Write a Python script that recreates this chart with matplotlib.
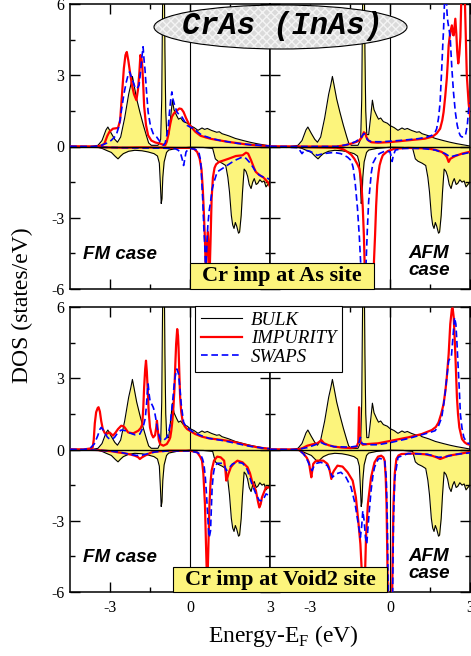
import numpy as np
import matplotlib.pyplot as plt
from matplotlib.patches import Ellipse, Rectangle
from matplotlib.lines import Line2D

plt.rcParams['font.family'] = ['Liberation Serif', 'DejaVu Serif']
plt.rcParams['mathtext.fontset'] = 'custom'
plt.rcParams['mathtext.rm'] = 'Liberation Serif'
plt.rcParams['axes.unicode_minus'] = False

# ---- data: (energy in eV, DOS in states/eV) ----
# bulk CrAs (same curve in all four panels)
BULK_UP = [(-4.5, 0), (-3.7, 0.0), (-3.45, 0.05), (-3.3, 0.25), (-3.15, 0.7), (-3.08, 0.82),
           (-2.95, 0.55), (-2.82, 0.3), (-2.72, 0.18), (-2.6, 0.4), (-2.45, 1.2), (-2.3, 2.2),
           (-2.22, 2.6), (-2.16, 2.95), (-2.1, 2.6), (-2.0, 2.0), (-1.88, 1.45), (-1.75, 0.9),
           (-1.62, 0.4), (-1.55, 0.15), (-1.45, 0.05), (-1.2, 0.05), (-1.1, 0.3), (-1.06, 2.0),
           (-1.04, 4.6), (-1.01, 8.0), (-0.97, 8.0), (-0.94, 4.0), (-0.91, 1.5), (-0.87, 0.5),
           (-0.8, 0.5), (-0.72, 1.3), (-0.66, 1.95), (-0.6, 1.55), (-0.5, 1.3), (-0.43, 1.15),
           (-0.35, 1.2), (-0.25, 1.05), (-0.1, 0.98), (0.0, 0.88), (0.15, 0.8), (0.3, 0.68),
           (0.45, 0.78), (0.55, 0.72), (0.65, 0.76), (0.8, 0.68), (1.0, 0.6), (1.1, 0.62),
           (1.2, 0.54), (1.45, 0.45), (1.7, 0.34), (2.0, 0.25), (2.25, 0.18), (2.5, 0.12),
           (2.75, 0.07), (3.0, 0.02)]
BULK_DN = [(-4.5, 0), (-3.5, -0.02), (-3.3, -0.08), (-3.1, -0.18), (-2.95, -0.25), (-2.8, -0.42),
           (-2.7, -0.52), (-2.6, -0.4), (-2.5, -0.3), (-2.3, -0.2), (-2.07, -0.16), (-1.8, -0.18),
           (-1.57, -0.23), (-1.35, -0.3), (-1.22, -0.4), (-1.15, -0.7), (-1.11, -1.6), (-1.08, -2.4),
           (-1.05, -2.2), (-1.02, -1.3), (-0.97, -0.65), (-0.88, -0.25), (-0.8, -0.15), (-0.5, -0.08),
           (-0.3, -0.06), (0.0, -0.03), (0.5, -0.04), (0.85, -0.08), (0.9, -0.3), (0.95, -0.52),
           (1.05, -0.62), (1.2, -0.7), (1.34, -0.8), (1.42, -1.3), (1.48, -1.9), (1.55, -2.9),
           (1.6, -3.3), (1.65, -3.45), (1.7, -3.2), (1.75, -3.35), (1.82, -3.65), (1.86, -3.6),
           (1.92, -2.9), (1.97, -1.9), (2.03, -0.95), (2.1, -1.05), (2.16, -1.25), (2.22, -1.6),
           (2.29, -1.77), (2.35, -1.5), (2.41, -1.35), (2.48, -1.6), (2.54, -1.55), (2.62, -1.4),
           (2.7, -1.5), (2.78, -1.45), (2.85, -1.7), (2.92, -1.6), (3.0, -1.5)]

# Cr impurity at As site, FM
AS_FM_IMP_UP = [(-4.5, 0), (-3.5, 0.0), (-3.3, 0.05), (-3.21, 0.12), (-3.1, 0.45), (-3.02, 0.62),
                (-2.89, 0.75), (-2.7, 0.78), (-2.62, 1.1), (-2.55, 2.2), (-2.48, 3.3), (-2.42, 3.85),
                (-2.37, 3.98), (-2.31, 3.6), (-2.26, 3.2), (-2.18, 2.6), (-2.1, 2.2), (-2.01, 1.95),
                (-1.95, 2.4), (-1.9, 3.1), (-1.86, 3.85), (-1.82, 3.7), (-1.79, 3.4), (-1.75, 2.5),
                (-1.72, 1.7), (-1.65, 0.9), (-1.57, 0.47), (-1.45, 0.25), (-1.3, 0.17), (-1.12, 0.12),
                (-0.93, 0.05), (-0.87, 0.2), (-0.81, 0.5), (-0.74, 0.95), (-0.68, 1.25), (-0.6, 1.4),
                (-0.5, 1.5), (-0.4, 1.6), (-0.32, 1.58), (-0.24, 1.45), (-0.15, 1.2), (-0.05, 0.96),
                (0.1, 0.75), (0.2, 0.62), (0.4, 0.45), (0.6, 0.38), (0.8, 0.32), (1.1, 0.26),
                (1.4, 0.2), (1.72, 0.15), (2.1, 0.09), (2.47, 0.05), (3.0, 0.02)]
AS_FM_IMP_DN = [(-4.5, 0), (-3.5, -0.02), (-3.0, -0.04), (-2.5, -0.05), (-2.0, -0.04), (-1.5, -0.04),
                (-1.0, -0.05), (-0.5, -0.06), (0.0, -0.06), (0.15, -0.1), (0.27, -0.23), (0.36, -0.5),
                (0.43, -0.95), (0.48, -1.8), (0.52, -2.8), (0.56, -3.9), (0.6, -5.6), (0.64, -4.2),
                (0.67, -3.6), (0.7, -4.3), (0.74, -5.2), (0.77, -4.0), (0.81, -2.2), (0.86, -1.3),
                (0.92, -0.9), (0.98, -0.75), (1.09, -0.65), (1.28, -0.58), (1.46, -0.51), (1.72, -0.4),
                (1.97, -0.37), (2.1, -0.26), (2.18, -0.3), (2.29, -0.58), (2.4, -0.9), (2.47, -1.07),
                (2.6, -1.2), (2.75, -1.3), (2.85, -1.42), (2.95, -1.55), (3.0, -1.7)]
AS_FM_SW_UP = [(-4.5, 0), (-3.6, 0.0), (-3.33, 0.05), (-3.1, 0.15), (-2.95, 0.26), (-2.77, 0.47),
               (-2.65, 0.9), (-2.58, 1.45), (-2.48, 2.2), (-2.39, 2.71), (-2.3, 3.1), (-2.26, 3.14),
               (-2.19, 2.9), (-2.13, 2.71), (-2.05, 2.45), (-2.01, 2.43), (-1.95, 2.5), (-1.91, 2.58),
               (-1.85, 3.2), (-1.8, 3.8), (-1.76, 4.2), (-1.72, 3.6), (-1.69, 3.28), (-1.63, 2.3),
               (-1.57, 1.45), (-1.48, 0.85), (-1.38, 0.54), (-1.25, 0.4), (-1.12, 0.19), (-1.0, 0.05),
               (-0.93, 0.15), (-0.87, 0.47), (-0.81, 0.9), (-0.77, 1.45), (-0.72, 2.0), (-0.68, 2.3),
               (-0.64, 2.0), (-0.58, 1.75), (-0.49, 1.45), (-0.4, 1.33), (-0.3, 1.24), (-0.2, 1.05),
               (-0.11, 0.89), (0.0, 0.82), (0.14, 0.75), (0.3, 0.6), (0.45, 0.47), (0.65, 0.4),
               (0.83, 0.33), (1.1, 0.26), (1.46, 0.19), (1.8, 0.13), (2.22, 0.08), (2.6, 0.05),
               (3.0, 0.02)]
AS_FM_SW_DN = [(-4.5, 0), (-3.0, -0.04), (-2.0, -0.06), (-1.0, -0.07), (-0.56, -0.09), (-0.45, -0.15),
               (-0.37, -0.23), (-0.3, -0.5), (-0.24, -0.8), (-0.19, -0.5), (-0.15, -0.23), (-0.05, -0.1),
               (0.0, -0.08), (0.2, -0.12), (0.33, -0.23), (0.4, -0.6), (0.43, -1.21), (0.48, -2.3),
               (0.52, -3.46), (0.56, -4.3), (0.59, -5.4), (0.63, -4.2), (0.67, -3.3), (0.72, -2.7),
               (0.77, -2.34), (0.83, -1.8), (0.9, -1.49), (1.02, -1.07), (1.21, -0.93), (1.4, -0.79),
               (1.59, -0.65), (1.75, -0.55), (1.97, -0.44), (2.1, -0.5), (2.22, -0.65), (2.35, -0.85),
               (2.47, -1.07), (2.6, -1.2), (2.73, -1.28), (2.85, -1.3), (3.0, -1.4)]

# Cr impurity at As site, AFM
AS_AFM_IMP_UP = [(-4.5, 0), (-2.0, 0.0), (-1.7, 0.05), (-1.46, 0.12), (-1.25, 0.2), (-1.15, 0.26),
                 (-1.05, 0.4), (-0.98, 0.6), (-0.93, 0.55), (-0.88, 0.38), (-0.8, 0.24), (-0.7, 0.18),
                 (-0.45, 0.16), (0.05, 0.19), (0.68, 0.26), (1.31, 0.33), (1.6, 0.42), (1.75, 0.55),
                 (1.88, 0.75), (1.96, 1.1), (2.01, 1.45), (2.07, 2.1), (2.13, 2.86), (2.17, 3.6),
                 (2.2, 4.26), (2.26, 4.82), (2.32, 5.1), (2.36, 4.7), (2.39, 4.68), (2.45, 5.38),
                 (2.49, 4.7), (2.52, 4.0), (2.56, 3.5), (2.6, 3.9), (2.64, 4.6), (2.68, 6.5),
                 (2.74, 8.0), (2.8, 6.5), (2.88, 3.0), (2.95, 1.8), (3.0, 1.3)]
AS_AFM_IMP_DN = [(-4.5, 0), (-3.0, -0.03), (-2.0, -0.05), (-1.75, -0.12), (-1.59, -0.23), (-1.45, -0.35),
                 (-1.34, -0.51), (-1.22, -0.75), (-1.15, -0.93), (-1.1, -1.3), (-1.06, -1.77),
                 (-1.02, -2.6), (-0.98, -3.74), (-0.95, -5.0), (-0.92, -6.5), (-0.78, -9.0),
                 (-0.63, -6.5), (-0.6, -4.8), (-0.56, -3.74), (-0.52, -2.5), (-0.48, -1.63),
                 (-0.43, -1.1), (-0.39, -0.79), (-0.33, -0.55), (-0.27, -0.37), (-0.15, -0.25),
                 (-0.08, -0.19), (0.18, -0.09), (0.68, -0.06), (1.4, -0.08), (1.7, -0.14),
                 (1.94, -0.23), (2.05, -0.32), (2.13, -0.44), (2.2, -0.65), (2.26, -0.52),
                 (2.35, -0.46), (2.45, -0.4), (2.7, -0.3), (3.0, -0.22)]
AS_AFM_SW_UP = [(-4.5, 0), (-2.0, 0.0), (-1.6, 0.08), (-1.3, 0.2), (-1.1, 0.35), (-0.98, 0.55),
                (-0.92, 0.5), (-0.85, 0.28), (-0.7, 0.2), (-0.3, 0.2), (0.43, 0.26), (1.06, 0.33),
                (1.4, 0.4), (1.57, 0.47), (1.7, 0.62), (1.75, 0.75), (1.82, 1.2), (1.88, 1.87),
                (1.91, 2.6), (1.94, 3.28), (1.98, 4.3), (2.01, 4.96), (2.05, 6.3), (2.1, 6.5),
                (2.14, 5.6), (2.17, 5.24), (2.22, 4.9), (2.26, 4.54), (2.29, 3.9), (2.32, 3.28),
                (2.38, 2.3), (2.45, 1.45), (2.52, 0.9), (2.58, 0.61), (2.64, 0.45), (2.7, 0.4),
                (2.78, 0.42), (2.83, 0.47), (2.9, 0.9), (2.95, 1.59), (3.0, 1.85)]
AS_AFM_SW_DN = [(-4.5, 0), (-3.45, -0.05), (-3.3, -0.3), (-3.2, -0.15), (-3.0, -0.2), (-2.73, -0.37),
                (-2.5, -0.3), (-2.1, -0.25), (-1.85, -0.3), (-1.72, -0.37), (-1.59, -0.45),
                (-1.45, -0.6), (-1.38, -0.9), (-1.3, -1.6), (-1.22, -2.6), (-1.15, -3.8),
                (-1.1, -4.9), (-1.0, -7.0), (-0.9, -5.0), (-0.85, -3.5), (-0.8, -2.3), (-0.76, -1.83),
                (-0.7, -1.1), (-0.64, -0.7), (-0.5, -0.4), (-0.4, -0.3), (-0.2, -0.2), (0.0, -0.22),
                (0.05, -0.45), (0.08, -0.63), (0.12, -0.4), (0.2, -0.15), (0.5, -0.08), (1.2, -0.08),
                (1.7, -0.15), (2.07, -0.3), (2.26, -0.44), (2.45, -0.38), (3.0, -0.25)]

# Cr impurity at Void2 site, FM
V2_FM_IMP_UP = [(-4.5, 0), (-4.0, 0.0), (-3.7, 0.05), (-3.65, 0.09), (-3.61, 0.4), (-3.57, 1.1),
                (-3.52, 1.57), (-3.46, 1.75), (-3.43, 1.78), (-3.38, 1.6), (-3.33, 1.2), (-3.27, 0.86),
                (-3.2, 0.7), (-3.14, 0.65), (-3.02, 0.72), (-2.95, 0.65), (-2.89, 0.58), (-2.8, 0.7),
                (-2.7, 0.86), (-2.58, 1.0), (-2.5, 0.98), (-2.45, 0.93), (-2.32, 0.72), (-2.13, 0.68),
                (-1.94, 0.79), (-1.85, 0.9), (-1.79, 1.05), (-1.75, 1.8), (-1.72, 2.62), (-1.68, 3.4),
                (-1.65, 3.74), (-1.62, 3.3), (-1.59, 2.62), (-1.55, 1.6), (-1.5, 0.93), (-1.44, 0.65),
                (-1.38, 0.51), (-1.31, 0.6), (-1.27, 0.9), (-1.24, 1.21), (-1.21, 0.85), (-1.17, 0.4),
                (-1.12, 0.23), (-1.0, 0.16), (-0.87, 0.23), (-0.78, 0.4), (-0.74, 0.51), (-0.7, 0.8),
                (-0.66, 1.21), (-0.62, 1.8), (-0.58, 2.62), (-0.55, 3.6), (-0.52, 4.44), (-0.48, 5.07),
                (-0.45, 4.8), (-0.43, 4.3), (-0.4, 3.2), (-0.37, 2.2), (-0.33, 1.6), (-0.28, 1.21),
                (-0.2, 0.98), (-0.11, 0.86), (0.05, 0.75), (0.2, 0.65), (0.45, 0.54), (0.71, 0.47),
                (1.0, 0.43), (1.21, 0.4), (1.5, 0.35), (1.72, 0.3), (2.0, 0.22), (2.22, 0.16),
                (2.5, 0.1), (2.73, 0.06), (3.0, 0.03)]
V2_FM_IMP_DN = [(-4.5, 0), (-3.5, -0.02), (-3.2, -0.05), (-2.9, -0.08), (-2.7, -0.12), (-2.5, -0.15),
                (-2.32, -0.19), (-2.2, -0.22), (-2.07, -0.26), (-1.95, -0.32), (-1.88, -0.4),
                (-1.8, -0.33), (-1.69, -0.26), (-1.55, -0.18), (-1.44, -0.12), (-1.2, -0.08),
                (-0.8, -0.05), (0.0, -0.05), (0.27, -0.12), (0.38, -0.3), (0.45, -0.47), (0.5, -1.0),
                (0.56, -2.29), (0.6, -4.0), (0.62, -4.82), (0.65, -5.8), (0.68, -4.5), (0.73, -2.29),
                (0.77, -1.4), (0.81, -0.89), (0.9, -0.47), (1.02, -0.3), (1.15, -0.33), (1.28, -0.47),
                (1.33, -0.9), (1.36, -1.31), (1.4, -1.2), (1.44, -1.03), (1.53, -0.75), (1.65, -0.58),
                (1.78, -0.47), (1.97, -0.54), (2.16, -0.75), (2.25, -1.0), (2.32, -1.31),
                (2.47, -1.73), (2.55, -2.2), (2.6, -2.44), (2.65, -2.3), (2.7, -2.01), (2.85, -1.59),
                (2.95, -1.6), (3.0, -1.6)]
V2_FM_SW_UP = [(-4.5, 0), (-4.0, 0.0), (-3.75, 0.05), (-3.59, 0.23), (-3.46, 0.58), (-3.38, 0.85),
               (-3.33, 0.93), (-3.27, 0.85), (-3.21, 0.72), (-3.1, 0.52), (-3.02, 0.44), (-2.9, 0.45),
               (-2.83, 0.51), (-2.7, 0.72), (-2.58, 0.82), (-2.45, 0.8), (-2.32, 0.72), (-2.07, 0.62),
               (-1.88, 0.65), (-1.76, 0.93), (-1.68, 1.3), (-1.63, 1.9), (-1.6, 2.4), (-1.57, 2.76),
               (-1.53, 2.3), (-1.5, 2.06), (-1.44, 1.92), (-1.38, 1.78), (-1.33, 1.6), (-1.29, 1.35),
               (-1.21, 0.79), (-1.12, 0.44), (-1.0, 0.37), (-0.87, 0.51), (-0.8, 0.75), (-0.74, 1.07),
               (-0.66, 1.92), (-0.58, 2.9), (-0.52, 3.3), (-0.49, 3.39), (-0.43, 3.18), (-0.38, 2.6),
               (-0.33, 1.92), (-0.24, 1.14), (-0.12, 0.92), (-0.05, 0.86), (0.2, 0.68), (0.5, 0.55),
               (0.71, 0.47), (1.21, 0.38), (1.72, 0.26), (2.22, 0.14), (2.6, 0.08), (3.0, 0.03)]
V2_FM_SW_DN = [(-4.5, 0), (-3.5, -0.03), (-3.0, -0.06), (-2.6, -0.12), (-2.3, -0.2), (-2.0, -0.25),
               (-1.8, -0.24), (-1.6, -0.18), (-1.3, -0.1), (-0.8, -0.06), (0.0, -0.06), (0.25, -0.12),
               (0.39, -0.19), (0.47, -0.4), (0.52, -0.61), (0.57, -1.1), (0.61, -1.73), (0.66, -2.7),
               (0.71, -3.7), (0.74, -3.6), (0.77, -3.42), (0.8, -2.5), (0.83, -1.59), (0.88, -1.0),
               (0.92, -0.75), (1.02, -0.58), (1.21, -0.58), (1.3, -0.7), (1.36, -0.89), (1.45, -0.8),
               (1.59, -0.61), (1.78, -0.54), (1.97, -0.58), (2.1, -0.75), (2.16, -0.89), (2.32, -1.45),
               (2.47, -1.87), (2.6, -2.15), (2.73, -2.15), (2.85, -1.87), (3.0, -1.95)]

# Cr impurity at Void2 site, AFM
V2_AFM_IMP_UP = [(-4.5, 0), (-3.5, 0.0), (-3.3, 0.05), (-3.1, 0.16), (-2.9, 0.22), (-2.73, 0.26),
                 (-2.62, 0.35), (-2.58, 0.4), (-2.52, 0.32), (-2.47, 0.26), (-2.3, 0.18), (-2.1, 0.12),
                 (-1.8, 0.08), (-1.46, 0.06), (-1.25, 0.12), (-1.19, 0.3), (-1.16, 1.78), (-1.13, 0.6),
                 (-1.1, 0.3), (-1.02, 0.2), (-0.83, 0.23), (-0.45, 0.26), (0.05, 0.37), (0.68, 0.51),
                 (1.19, 0.65), (1.57, 0.82), (1.72, 0.95), (1.82, 1.14), (1.92, 1.5), (2.01, 1.92),
                 (2.08, 2.5), (2.13, 3.04), (2.2, 4.02), (2.26, 5.28), (2.32, 5.92), (2.35, 5.95),
                 (2.39, 5.56), (2.42, 4.8), (2.45, 4.02), (2.51, 2.2), (2.55, 1.5), (2.6, 0.93),
                 (2.7, 0.44), (2.8, 0.3), (2.89, 0.23), (3.0, 0.2)]
V2_AFM_IMP_DN = [(-4.5, 0), (-3.4, -0.02), (-3.23, -0.19), (-3.12, -0.35), (-3.04, -0.54), (-2.99, -0.9),
                 (-2.95, -1.17), (-2.91, -0.85), (-2.88, -0.61), (-2.8, -0.5), (-2.73, -0.47),
                 (-2.5, -0.47), (-2.35, -0.6), (-2.29, -0.75), (-2.24, -1.0), (-2.2, -1.24),
                 (-2.15, -1.0), (-2.1, -0.89), (-1.97, -0.68), (-1.78, -0.72), (-1.59, -0.96),
                 (-1.4, -1.31), (-1.28, -2.01), (-1.19, -3.0), (-1.11, -3.98), (-1.06, -5.1),
                 (-1.03, -6.5), (-1.0, -5.5), (-0.96, -6.5), (-0.93, -5.0), (-0.9, -3.7), (-0.83, -2.3),
                 (-0.71, -1.17), (-0.58, -0.54), (-0.45, -0.3), (-0.33, -0.26), (-0.25, -0.33),
                 (-0.2, -0.47), (-0.16, -1.2), (-0.13, -2.3), (-0.1, -4.5), (-0.06, -8.0), (0.06, -8.0),
                 (0.1, -4.5), (0.13, -2.3), (0.18, -1.0), (0.24, -0.4), (0.32, -0.25), (0.43, -0.19),
                 (0.9, -0.17), (1.3, -0.2), (1.57, -0.26), (1.75, -0.33), (1.88, -0.4), (2.0, -0.35),
                 (2.2, -0.26), (2.58, -0.19), (3.0, -0.1)]
V2_AFM_SW_UP = [(-4.5, 0), (-3.5, 0.0), (-3.1, 0.08), (-2.8, 0.2), (-2.6, 0.3), (-2.45, 0.22),
                (-2.1, 0.12), (-1.5, 0.1), (-1.2, 0.15), (-1.11, 0.51), (-1.05, 0.25), (-0.8, 0.2),
                (-0.45, 0.2), (0.05, 0.3), (0.68, 0.46), (1.19, 0.62), (1.5, 0.72), (1.69, 0.79),
                (1.82, 1.0), (1.94, 1.35), (2.05, 2.2), (2.13, 3.04), (2.2, 3.74), (2.26, 3.85),
                (2.3, 3.88), (2.36, 4.72), (2.42, 5.56), (2.47, 5.28), (2.51, 4.5), (2.55, 3.6),
                (2.6, 2.5), (2.64, 1.49), (2.7, 0.9), (2.77, 0.51), (2.88, 0.3), (3.0, 0.22)]
V2_AFM_SW_DN = [(-4.5, 0), (-3.4, -0.03), (-3.23, -0.2), (-3.1, -0.45), (-3.04, -0.61), (-2.92, -0.89),
                (-2.85, -0.7), (-2.75, -0.58), (-2.6, -0.54), (-2.45, -0.6), (-2.35, -0.68),
                (-2.25, -0.9), (-2.16, -1.17), (-2.03, -1.03), (-1.84, -0.96), (-1.65, -1.17),
                (-1.46, -1.59), (-1.31, -2.29), (-1.21, -3.0), (-1.11, -3.7), (-1.06, -3.2),
                (-1.02, -2.58), (-0.97, -3.0), (-0.92, -3.7), (-0.87, -3.98), (-0.82, -3.2),
                (-0.77, -2.5), (-0.71, -1.73), (-0.64, -1.1), (-0.58, -0.75), (-0.45, -0.42),
                (-0.39, -0.37), (-0.2, -0.45), (-0.14, -1.2), (-0.1, -3.0), (-0.05, -8.0), (0.08, -8.0),
                (0.13, -3.0), (0.18, -1.2), (0.3, -0.33), (0.68, -0.17), (1.4, -0.2), (1.82, -0.33),
                (2.1, -0.3), (2.5, -0.2), (3.0, -0.14)]

LEGEND_LABELS = ['BULK', 'IMPURITY', 'SWAPS']
SITE_LABELS = ['Cr imp at As site', 'Cr imp at Void2 site']

FILL = '#fcf47c'
W, H = 471, 656


def add_ax(fig, x0, y0, x1, y1):
    # pixel box -> figure fraction
    return fig.add_axes([x0 / W, 1 - y1 / H, (x1 - x0) / W, (y1 - y0) / H])


def curve(c):
    e, d = np.array(c, dtype=float).T
    return e, d


def draw_panel(ax, imp_up, imp_dn, sw_up, sw_dn, xlabels, ylabels):
    for c in (BULK_UP, BULK_DN):
        e, d = curve(c)
        ax.fill_between(e, d, 0, color=FILL, lw=0, zorder=1)
        ax.plot(e, d, color='black', lw=0.8, zorder=2)
    ax.axvline(0, color='black', lw=0.8, zorder=2.5)
    for c in (imp_up, imp_dn):
        e, d = curve(c)
        ax.plot(e, d, color='red', lw=1.6, zorder=3)
    for c in (sw_up, sw_dn):
        e, d = curve(c)
        ax.plot(e, d, color='blue', lw=1.2, dashes=(4, 2.2), zorder=4)
    ax.axhline(0, color='black', lw=1.0, zorder=4.5)

    ax.set_xlim(-4.5, 3)
    ax.set_ylim(-6, 6)
    ax.set_xticks([-3, 0, 3])
    ax.set_xticks([-1.5, 1.5], minor=True)
    ax.set_yticks([-6, -3, 0, 3, 6])
    ax.set_yticks([-4.5, -1.5, 1.5, 4.5], minor=True)
    ax.tick_params(which='both', direction='in', top=True, right=True, width=1,
                   labelsize=11.5, labelbottom=xlabels, labelleft=ylabels)
    ax.tick_params(which='major', length=7)
    ax.tick_params(which='minor', length=3.5)
    ax.tick_params(axis='x', pad=6)
    ax.tick_params(axis='y', pad=4)
    for s in ax.spines.values():
        s.set_linewidth(1.1)


fig = plt.figure(figsize=(W / 100, H / 100), dpi=100)

ax_tl = add_ax(fig, 70, 4, 270, 289)
ax_tr = add_ax(fig, 270, 4, 470, 289)
ax_bl = add_ax(fig, 70, 307, 270, 592)
ax_br = add_ax(fig, 270, 307, 470, 592)

draw_panel(ax_tl, AS_FM_IMP_UP, AS_FM_IMP_DN, AS_FM_SW_UP, AS_FM_SW_DN, False, True)
draw_panel(ax_tr, AS_AFM_IMP_UP, AS_AFM_IMP_DN, AS_AFM_SW_UP, AS_AFM_SW_DN, False, False)
draw_panel(ax_bl, V2_FM_IMP_UP, V2_FM_IMP_DN, V2_FM_SW_UP, V2_FM_SW_DN, True, True)
draw_panel(ax_br, V2_AFM_IMP_UP, V2_AFM_IMP_DN, V2_AFM_SW_UP, V2_AFM_SW_DN, True, False)

# case labels
case_font = dict(family='Liberation Sans', weight='bold', style='italic', size=13.5)
for ytop in (259, 562):
    fig.text(83 / W, 1 - ytop / H, 'FM case', va='baseline', ha='left', **case_font)
for yc in (262, 565):
    fig.text(429 / W, 1 - yc / H, 'AFM\ncase', va='center', ha='center', linespacing=0.95, **case_font)

# site boxes
for (x0, y0, x1, y1), lab in zip([(190, 263, 374, 289), (173, 567, 387, 592)], SITE_LABELS):
    fig.add_artist(Rectangle((x0 / W, 1 - y1 / H), (x1 - x0) / W, (y1 - y0) / H,
                             transform=fig.transFigure, facecolor=FILL, edgecolor='black',
                             lw=0.8, zorder=5))
    fig.text((x0 + x1) / 2 / W, 1 - (y0 + y1 + 1) / 2 / H, lab, ha='center', va='center',
             fontsize=16, fontweight='bold', zorder=6)

# title ellipse
fig.add_artist(Ellipse((280.5 / W, 1 - 27 / H), 253 / W, 44 / H, transform=fig.transFigure,
                       facecolor='#dadada', edgecolor='none', zorder=5))
fig.add_artist(Ellipse((280.5 / W, 1 - 27 / H), 253 / W, 44 / H, transform=fig.transFigure,
                       facecolor='none', edgecolor='#f4f4f4', hatch='xxxx', lw=0, zorder=5.1))
fig.add_artist(Ellipse((280.5 / W, 1 - 27 / H), 253 / W, 44 / H, transform=fig.transFigure,
                       facecolor='none', edgecolor='black', lw=0.8, zorder=5.2))
fig.text(282 / W, 1 - 26 / H, 'CrAs (InAs)', ha='center', va='center', family='Liberation Mono',
         weight='bold', style='italic', size=22, zorder=6)

# legend
handles = [Line2D([], [], color='black', lw=0.8),
           Line2D([], [], color='red', lw=1.6),
           Line2D([], [], color='blue', lw=1.2, dashes=(4, 2.2))]
leg = fig.legend(handles, LEGEND_LABELS, loc='upper left', bbox_to_anchor=(195 / W, 1 - 306 / H),
                 bbox_transform=fig.transFigure, frameon=True, fancybox=False, framealpha=1,
                 edgecolor='black', borderaxespad=0, prop={'style': 'italic', 'size': 13.5},
                 handlelength=2.2, labelspacing=0.08, borderpad=0.3, handletextpad=0.5)
leg.get_frame().set_linewidth(0.8)
leg.set_zorder(7)

fig.text(22 / W, 1 - 305 / H, 'DOS (states/eV)', rotation=90, ha='center', va='center', fontsize=17)
fig.text(283 / W, 1 - 636 / H, r'Energy-E$_\mathregular{F}$ (eV)', ha='center', va='center', fontsize=17)

fig.savefig('out.png', dpi=100)
